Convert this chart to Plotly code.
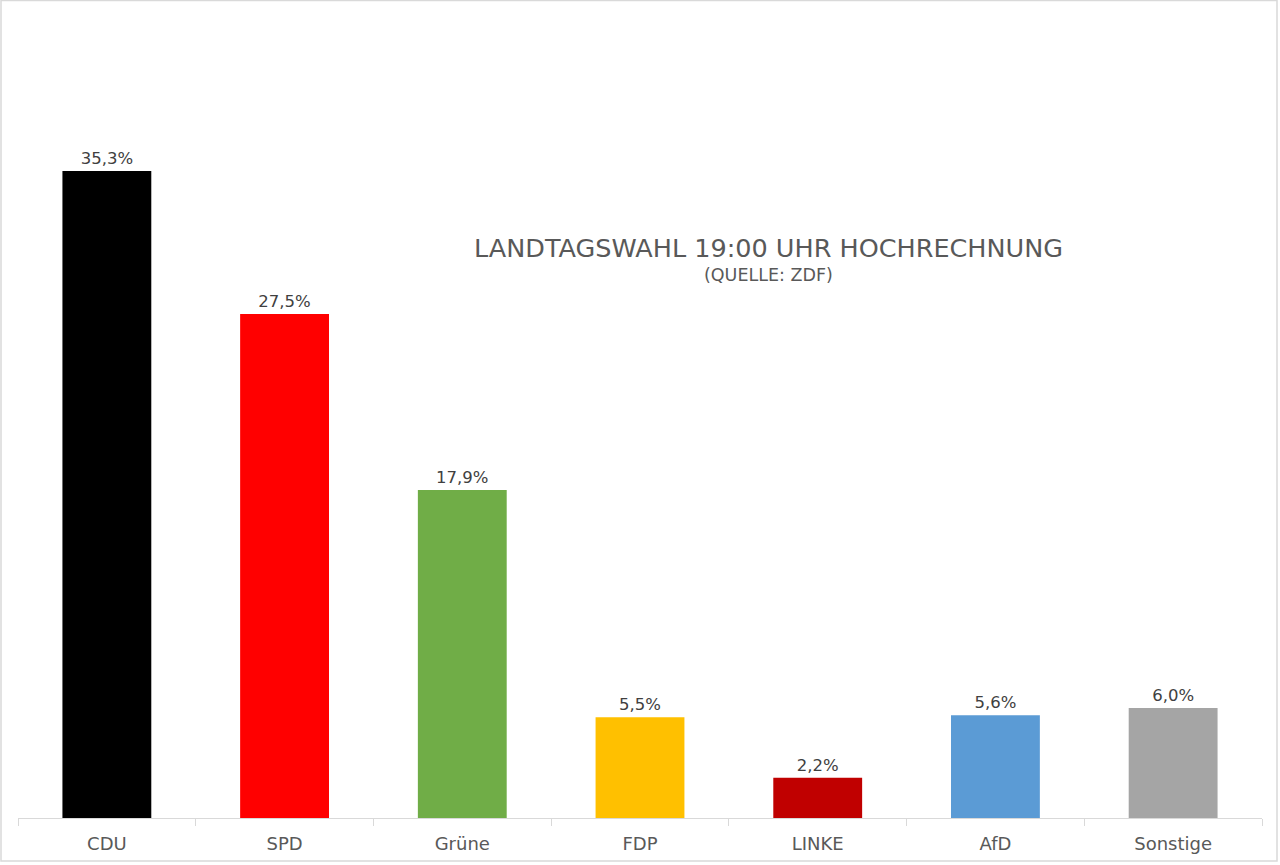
import plotly.graph_objects as go

parties = ["CDU", "SPD", "Grüne", "FDP", "LINKE", "AfD", "Sonstige"]
values = [35.3, 27.5, 17.9, 5.5, 2.2, 5.6, 6.0]
colors = ["#000000", "#FF0000", "#70AD47", "#FFC000", "#C00000", "#5B9BD5", "#A5A5A5"]

W, H = 1280, 865
ml, mr, mt, mb = 18, 18, 20, 47
pw, ph = W - ml - mr, H - mt - mb

fig = go.Figure(go.Bar(
    x=parties, y=values,
    marker=dict(color=colors, line=dict(width=0)),
    texttemplate="%{y:.1f}%", textposition="outside",
    textfont=dict(size=16.5, color="#404040", family="DejaVu Sans"),
    cliponaxis=False,
    width=0.5,
))

fig.update_layout(
    width=W, height=H,
    margin=dict(l=ml, r=mr, t=mt, b=mb),
    paper_bgcolor="white", plot_bgcolor="white",
    separators=",.",
    font=dict(family="DejaVu Sans", color="#595959"),
    showlegend=False,
    bargap=0.5,
)
fig.update_xaxes(
    showline=True, linecolor="#D9D9D9", linewidth=1,
    ticks="outside", tickson="boundaries", ticklen=7, tickcolor="#D9D9D9",
    tickfont=dict(size=18, color="#595959"),
    ticklabelstandoff=9,
    showgrid=False,
)
fig.update_yaxes(range=[0, ph / 18.33], visible=False, showgrid=False)

# Title
fig.add_annotation(xref="paper", yref="paper", x=(768 - ml) / pw, y=(818 - 248) / ph,
                   text="LANDTAGSWAHL 19:00 UHR HOCHRECHNUNG", showarrow=False,
                   font=dict(size=25.5, color="#595959"), xanchor="center", yanchor="middle")
fig.add_annotation(xref="paper", yref="paper", x=(768 - ml) / pw, y=(818 - 275) / ph,
                   text="(QUELLE: ZDF)", showarrow=False,
                   font=dict(size=17.5, color="#595959"), xanchor="center", yanchor="middle")

# Outer border
fig.add_shape(type="rect", xref="paper", yref="paper",
              x0=(1 - ml) / pw, x1=(1277 - ml) / pw,
              y0=(818 - 861) / ph, y1=(818 - 0.5) / ph,
              line=dict(color="#D9D9D9", width=1.5), fillcolor="rgba(0,0,0,0)", layer="below")

fig.write_html("out.html", config={"displayModeBar": False},
               post_script="document.body.style.margin='0';document.body.style.padding='0';")
